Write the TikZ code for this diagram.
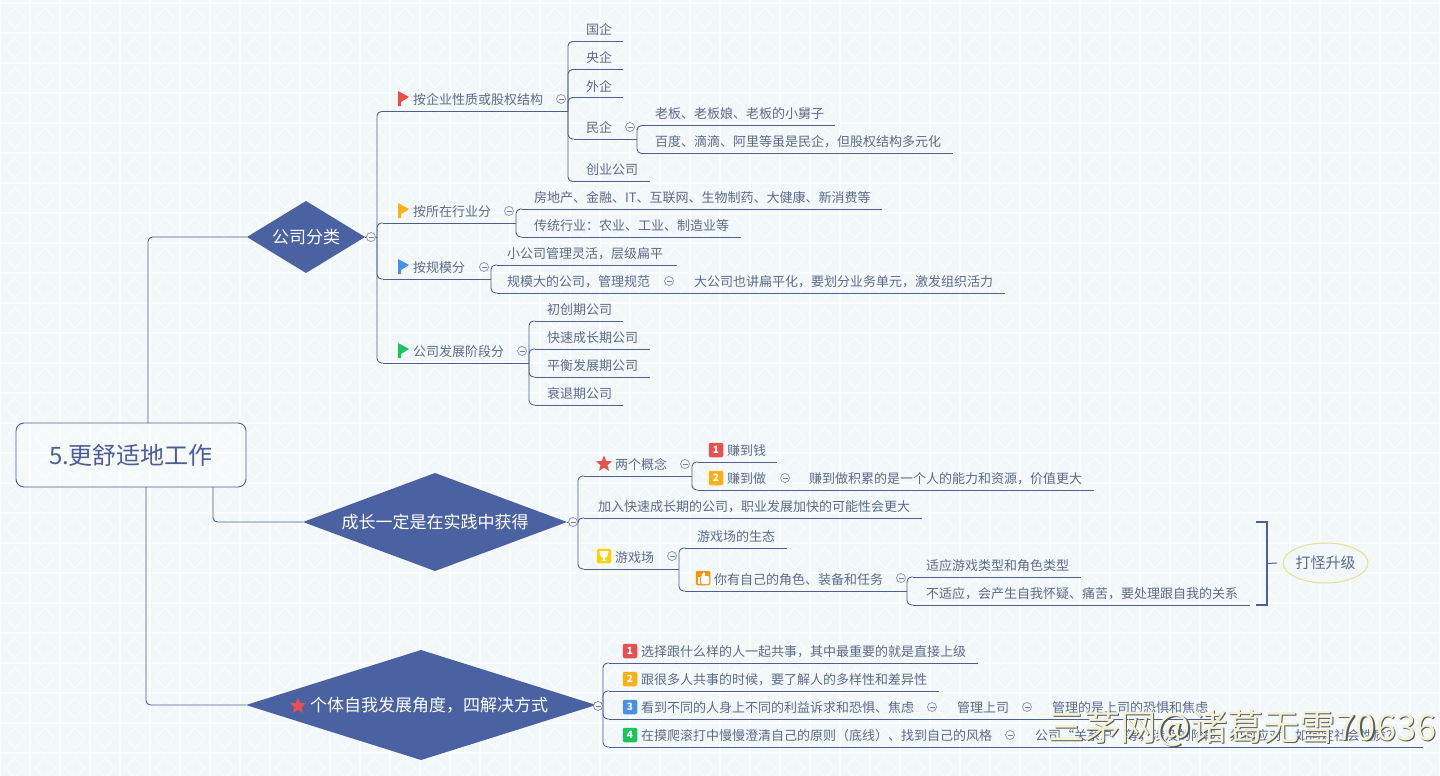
\documentclass[tikz,border=0pt]{standalone}
\usepackage{fontspec}
\setmainfont{Noto Sans CJK SC}
\usetikzlibrary{shapes.geometric,calc}
\definecolor{bgc}{HTML}{F2F7F9}
\definecolor{tilec}{HTML}{FAFCFD}
\definecolor{lnc}{HTML}{4E5F8E}
\definecolor{txc}{HTML}{5C6B8C}
\definecolor{dia}{HTML}{4A62A2}
\definecolor{rootc}{HTML}{4B5E98}
\definecolor{fred}{HTML}{E8504F}
\definecolor{forg}{HTML}{FBB017}
\definecolor{fblu}{HTML}{4A8FE8}
\definecolor{fgrn}{HTML}{1CC45C}
\definecolor{ylw}{HTML}{E6DF8E}
\tikzset{
  ln/.style={draw=lnc,line width=0.9pt},
  brl/.style={ln,rounded corners=4.5pt},
  topic/.style={anchor=south west,inner sep=0pt,outer sep=0pt,minimum height=23pt,text=txc,font=\fontsize{13}{15}\selectfont,align=left},
  mainshape/.style={shape=diamond,fill=dia,inner sep=0pt,outer sep=0pt,text=white,font=\fontsize{17}{20}\selectfont},
  collapse/.style={circle,draw=lnc!70!white,fill=bgc,line width=0.7pt,minimum size=9pt,inner sep=0pt,
    path picture={\draw[lnc!80!white,line width=0.7pt] ([xshift=-2.5pt]path picture bounding box.center)--([xshift=2.5pt]path picture bounding box.center);}},
  badge/.style={rounded corners=2pt,fill=#1,minimum size=14.5pt,inner sep=0pt,text=white,font=\fontsize{10}{10}\selectfont\bfseries},
  starshape/.style={star,star points=5,star point ratio=2.3,fill=fred,inner sep=0pt,minimum size=17pt},
  wmark/.style={anchor=west,inner sep=0pt,font=\fontsize{36.2}{40}\selectfont}
}
% name, x1, x2, y of underline, indent, text
\newcommand\tp[6]{%
  \pgfmathsetmacro\tpw{#3-#2}%
  \node[topic,text width=\tpw pt] (#1) at (#2,#4) {\hspace*{#5pt}\mbox{#6}};
  \draw[ln] ([xshift=6pt]#1.south west) -- (#1.south east);
}
% branch connector: from a parent point to a child's underline
\newcommand\br[2]{\draw[brl] (#1) |- ([xshift=6pt]#2.south west);}
\newcommand\chain[2]{\draw[ln] (#1.south east) -- ([xshift=6pt]#2.south west);}
\newcommand\flagmark[3]{\fill[#3] (#1,#2) -- ++(11,6) -- ++(-8,5) -- ++(0,4) -- ++(-3,0) -- cycle;}
\begin{document}
\begin{tikzpicture}[x=1pt,y=-1pt]
\useasboundingbox (0,0) rectangle (1440,776);
\fill[bgc] (0,0) rectangle (1440,776);
% background tiles
\foreach \i in {0,...,48}{\draw[tilec,line width=2pt] ({\i*30},0) -- ({\i*30},776);}
\foreach \j in {0,...,26}{\draw[tilec,line width=2pt] (0,{3+\j*30}) -- (1440,{3+\j*30});}
\foreach \i in {0,...,47}{\foreach \j in {0,...,25}{
  \draw[tilec,line width=0.8pt] ({\i*30+15},{\j*30+8}) -- ({\i*30+25},{\j*30+18}) -- ({\i*30+15},{\j*30+28}) -- ({\i*30+5},{\j*30+18}) -- cycle;
}}
% root
\node[draw=lnc,line width=0.9pt,fill=white,fill opacity=0.3,draw opacity=1,text opacity=1,rounded corners=8pt,minimum width=230pt,minimum height=64pt,inner sep=0pt,outer sep=0pt,text=rootc,font=\fontsize{24}{28}\selectfont] (root) at (131,455) {5.更舒适地工作};
\coordinate (rtop) at (148,423);
\coordinate (rbotA) at (213,487);
\coordinate (rbotB) at (146,487);
% main topics
\node[mainshape,minimum width=118pt,minimum height=72pt,aspect=1.64] (m1) at (306,237) {公司分类};
\node[mainshape,minimum width=264pt,minimum height=98pt,aspect=2.69] (m2) at (435,522) {成长一定是在实践中获得};
\node[mainshape,minimum width=350pt,minimum height=110pt,aspect=3.18] (m3) at (421,705) {\hspace*{16pt}个体自我发展角度，四解决方式};
\node[starshape] (m3star) at (298,706) {};
\draw[brl] (rtop) |- (m1.west);
\draw[brl] (rbotA) |- (m2.west);
\draw[brl] (rbotB) |- (m3.west);
\coordinate (t1) at (377,237);
\coordinate (t2) at (578,522);
\coordinate (t3) at (603,705);
\draw[ln] (m1.east) -- (t1);
\draw[ln] (m2.east) -- (t2);
\draw[ln] (m3.east) -- (t3);
% branch 1
\tp{a1}{377}{568}{111.5}{36}{按企业性质或股权结构}
\tp{a2}{377}{516}{223}{36}{按所在行业分}
\tp{a3}{377}{491}{279}{36}{按规模分}
\tp{a4}{377}{529}{363}{36}{公司发展阶段分}
\foreach \c in {a1,a2,a3,a4}{\br{t1}{\c}}
\flagmark{398}{91}{fred}
\flagmark{398}{203}{forg}
\flagmark{398}{259}{fblu}
\flagmark{398}{343}{fgrn}
\tp{a11}{568}{623}{41.5}{18}{国企}
\tp{a12}{568}{623}{69.5}{18}{央企}
\tp{a13}{568}{623}{97.5}{18}{外企}
\tp{a14}{568}{637}{139}{18}{民企}
\tp{a15}{568}{650}{181.5}{18}{创业公司}
\foreach \c in {a11,a12,a13,a14,a15}{\br{a1.south east}{\c}}
\tp{a141}{637}{835}{125.5}{18}{老板、老板娘、老板的小舅子}
\tp{a142}{637}{953}{153.5}{18}{百度、滴滴、阿里等虽是民企，但股权结构多元化}
\foreach \c in {a141,a142}{\br{a14.south east}{\c}}
\tp{a21}{516}{882}{209}{18}{房地产、金融、IT、互联网、生物制药、大健康、新消费等}
\tp{a22}{516}{741}{237}{18}{传统行业：农业、工业、制造业等}
\foreach \c in {a21,a22}{\br{a2.south east}{\c}}
\tp{a31}{491}{677}{265}{16}{小公司管理灵活，层级扁平}
\tp{a32}{491}{682}{293}{16}{规模大的公司，管理规范}
\foreach \c in {a31,a32}{\br{a3.south east}{\c}}
\tp{a321}{682}{1005}{293}{12}{大公司也讲扁平化，要划分业务单元，激发组织活力}
\chain{a32}{a321}
\tp{a41}{529}{623}{321}{18}{初创期公司}
\tp{a42}{529}{650}{349}{18}{快速成长期公司}
\tp{a43}{529}{650}{377}{18}{平衡发展期公司}
\tp{a44}{529}{623}{405}{18}{衰退期公司}
\foreach \c in {a41,a42,a43,a44}{\br{a4.south east}{\c}}
% branch 2
\tp{b1}{578}{692}{476}{37}{两个概念}
\tp{b2}{578}{922}{518}{20}{加入快速成长期的公司，职业发展加快的可能性会更大}
\tp{b3}{578}{679}{569}{37}{游戏场}
\foreach \c in {b1,b2,b3}{\br{t2}{\c}}
\node[starshape] (b1star) at (604,464) {};
\tp{b11}{692}{777}{462}{35}{赚到钱}
\tp{b12}{692}{797}{490}{35}{赚到做}
\foreach \c in {b11,b12}{\br{b1.south east}{\c}}
\tp{b121}{797}{1094}{490}{12}{赚到做积累的是一个人的能力和资源，价值更大}
\chain{b12}{b121}
\node[badge=fred] (bd1) at (716,450) {1};
\node[badge=forg] (bd2) at (716,478) {2};
\tp{b31}{679}{787}{548}{18}{游戏场的生态}
\tp{b32}{679}{907}{591}{35}{你有自己的角色、装备和任务}
\foreach \c in {b31,b32}{\br{b3.south east}{\c}}
\tp{b321}{907}{1081}{577}{19}{适应游戏类型和角色类型}
\tp{b322}{907}{1250}{605}{19}{不适应，会产生自我怀疑、痛苦，要处理跟自我的关系}
\foreach \c in {b321,b322}{\br{b32.south east}{\c}}
% trophy badge
\node[badge=forg!60!yellow] (trophy) at (604,556) {};
\fill[white] (599.5,551) -- (608.5,551) -- (607.5,556) -- (605,558) -- (605,560) -- (607,561) -- (601,561) -- (603,560) -- (603,558) -- (600.5,556) -- cycle;
% thumb badge
\node[badge=orange!85!yellow] (thumb) at (703,578) {};
\fill[white] (697.5,577) rectangle (700,584);
\fill[white,rounded corners=1pt] (701,577) -- (703.5,571.5) -- (705,572.5) -- (704.5,576) -- (709,576) -- (709,584) -- (701,584) -- cycle;
% summary bracket
\coordinate (brT) at (1256,522);
\coordinate (brB) at (1256,605);
\coordinate (brM) at (1267,563.5);
\draw[draw=rootc,line width=2pt] (brT) -| (brM) |- (brB);
\node[ellipse,draw=ylw,line width=1pt,fill=bgc,minimum width=83pt,minimum height=40pt,inner sep=0pt,outer sep=0pt,text=txc,font=\fontsize{15}{18}\selectfont] (sum) at (1325.5,563) {打怪升级};
\draw[draw=lnc,line width=1pt] (brM) -- ($(sum.west)+(-6,0)$);
% branch 3
\tp{c1}{603}{978}{663}{38}{选择跟什么样的人一起共事，其中最重要的就是直接上级}
\tp{c2}{603}{939}{691}{38}{跟很多人共事的时候，要了解人的多样性和差异性}
\tp{c3}{603}{944}{719}{38}{看到不同的人身上不同的利益诉求和恐惧、焦虑}
\tp{c4}{603}{1023}{747}{38}{在摸爬滚打中慢慢澄清自己的原则（底线）、找到自己的风格}
\foreach \c in {c1,c2,c3,c4}{\br{t3}{\c}}
\node[badge=fred] (bc1) at (630,651) {1};
\node[badge=forg] (bc2) at (630,679) {2};
\node[badge=fblu] (bc3) at (630,707) {3};
\node[badge=fgrn] (bc4) at (630,735) {4};
\tp{c31}{944}{1040}{719}{13}{管理上司}
\tp{c32}{1040}{1219}{719}{12}{管理的是上司的恐惧和焦虑}
\tp{c41}{1023}{1423}{747}{12}{公司“关系户”等，涉及的阶段、如何应对、如何定社会性质？}
\chain{c3}{c31}
\chain{c31}{c32}
\chain{c4}{c41}
% collapse markers
\node[collapse] (k1) at (371,237) {};
\node[collapse] (k2) at (573,522) {};
\node[collapse] (k3) at (598,706) {};
\node[collapse] (k4) at (561,99) {};
\node[collapse] (k5) at (630,127) {};
\node[collapse] (k6) at (509,211) {};
\node[collapse] (k7) at (484,267) {};
\node[collapse] (k8) at (669,281) {};
\node[collapse] (k9) at (522,351) {};
\node[collapse] (k10) at (685,464) {};
\node[collapse] (k11) at (785,478) {};
\node[collapse] (k12) at (672,556) {};
\node[collapse] (k13) at (901,578) {};
\node[collapse] (k14) at (932,707) {};
\node[collapse] (k15) at (1027,707) {};
\node[collapse] (k16) at (1010,735) {};
% watermark
\node[wmark,text=black!65] (ws) at (1049.2,729.2) {三茅网@诸葛无雪70636};
\node[wmark,text=white!88!olive] (wt) at (1048,728) {三茅网@诸葛无雪70636};
\end{tikzpicture}
\end{document}
